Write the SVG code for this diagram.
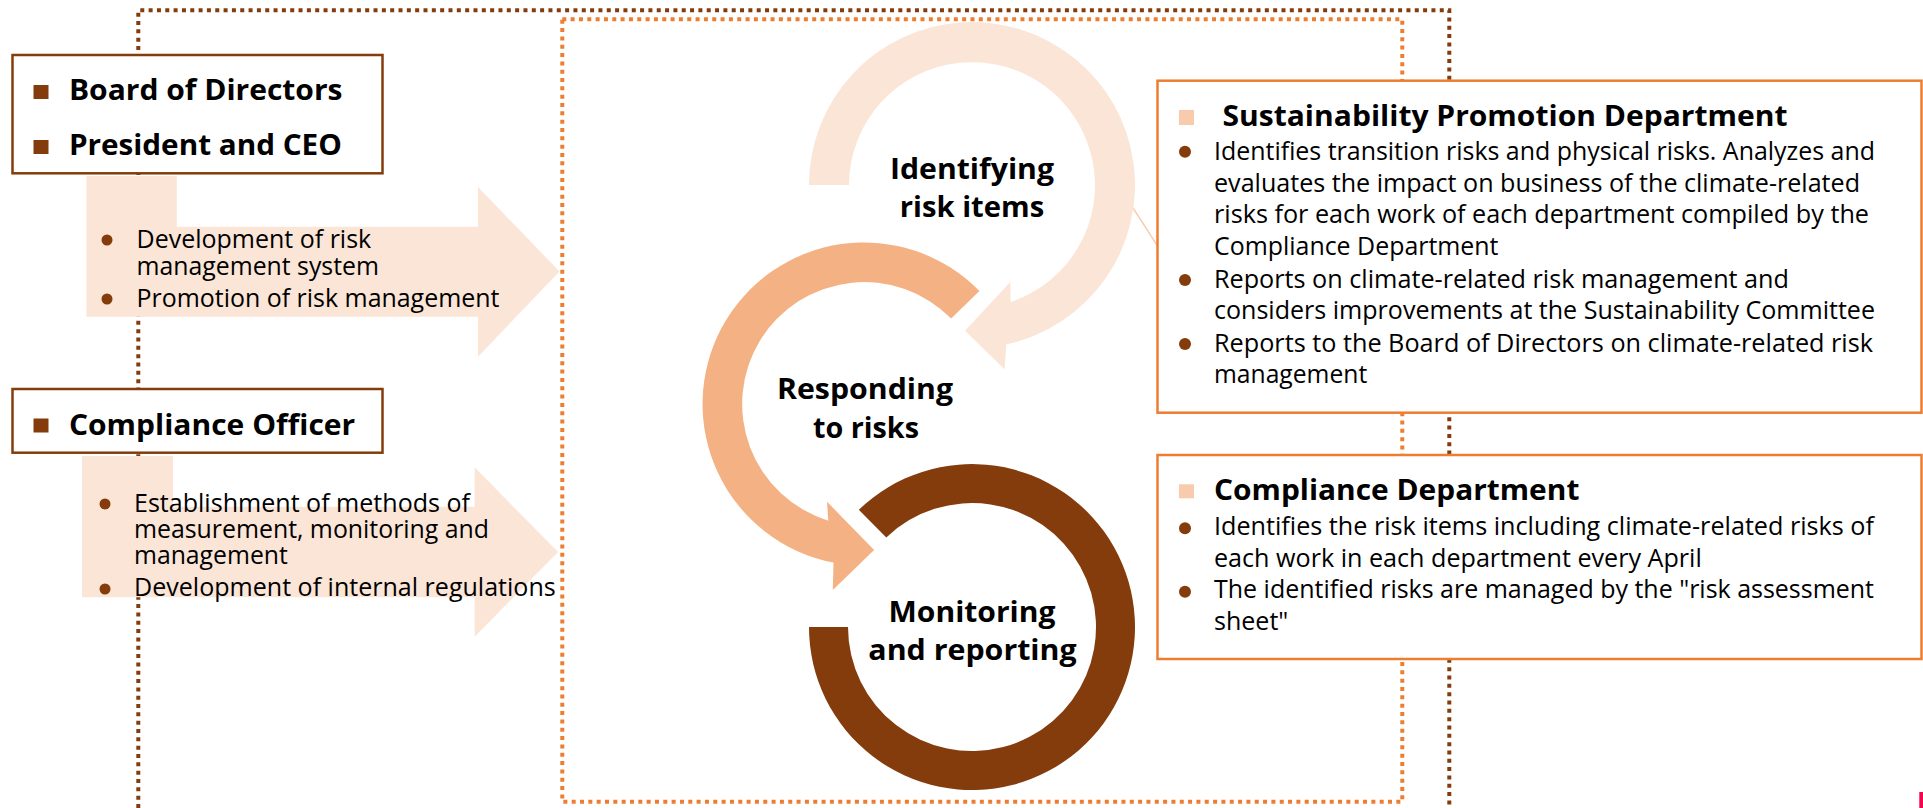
<svg xmlns="http://www.w3.org/2000/svg" width="1923" height="808" viewBox="0 0 1923 808">
<style>
.t{font-family:"Open Sans","Liberation Sans",sans-serif;font-size:25px;fill:#000}
.b{font-family:"Open Sans","Liberation Sans",sans-serif;font-size:29px;font-weight:bold;fill:#000}
.c{text-anchor:middle}
.dotB{fill:none;stroke:#843C0C;stroke-width:4;stroke-dasharray:4 4.33}
.dotO{fill:none;stroke:#ED7D31;stroke-width:4;stroke-dasharray:4 4.33}
.boxB{fill:#fff;stroke:#843C0C;stroke-width:2.5}
.boxO{fill:#fff;stroke:#ED7D31;stroke-width:2.5}
.sqB{fill:#843C0C}
.sqL{fill:#F8CBAD}
.dot{fill:#843C0C}
.arr{fill:#FBE5D6}
</style>
<g id="frames">
<path class="dotB" d="M138.3,808 V10.3 H1449.3 V808"/>
<rect class="dotO" x="562.3" y="19.3" width="840" height="782.4"/>
</g>
<g id="connectors">
<polygon class="arr" points="86.5,176 176.8,176 176.8,226.7 478,226.7 478,187 559.5,271.5 478,356.7 478,316.7 86.5,316.7"/>
<polygon class="arr" points="82,456 173,456 173,506.7 474.6,506.7 474.6,467.3 558,552 474.6,636.7 474.6,597.3 82,597.3"/>
<line x1="1133.3" y1="208.3" x2="1157.3" y2="245.7" stroke="#F8CBAD" stroke-width="1.5"/>
</g>
<g id="board">
<rect class="boxB" x="12.5" y="55" width="370" height="118.3"/>
<rect class="sqB" x="33.5" y="85" width="15" height="14"/>
<text class="b" x="68.9" y="100" textLength="273.6" lengthAdjust="spacingAndGlyphs">Board of Directors</text>
<rect class="sqB" x="33.5" y="140" width="15" height="14"/>
<text class="b" x="68.9" y="155" textLength="272.9" lengthAdjust="spacingAndGlyphs">President and CEO</text>
</g>
<g id="board-roles">
<circle class="dot" cx="107" cy="240" r="5.5"/>
<text class="t" x="136.6" y="248" textLength="234.6" lengthAdjust="spacingAndGlyphs">Development of risk</text>
<text class="t" x="136.6" y="275" textLength="242.3" lengthAdjust="spacingAndGlyphs">management system</text>
<circle class="dot" cx="107" cy="299" r="5.5"/>
<text class="t" x="136.6" y="307" textLength="362.8" lengthAdjust="spacingAndGlyphs">Promotion of risk management</text>
</g>
<g id="officer">
<rect class="boxB" x="12.5" y="389" width="370" height="63.7"/>
<rect class="sqB" x="33.5" y="418.5" width="15" height="14"/>
<text class="b" x="68.9" y="435" textLength="286.3" lengthAdjust="spacingAndGlyphs">Compliance Officer</text>
</g>
<g id="officer-roles">
<circle class="dot" cx="105" cy="504" r="5.5"/>
<text class="t" x="134" y="511.7" textLength="336" lengthAdjust="spacingAndGlyphs">Establishment of methods of</text>
<text class="t" x="134" y="538.3" textLength="355" lengthAdjust="spacingAndGlyphs">measurement, monitoring and</text>
<text class="t" x="134" y="564" textLength="153.8" lengthAdjust="spacingAndGlyphs">management</text>
<circle class="dot" cx="105" cy="589" r="5.5"/>
<text class="t" x="134" y="596" textLength="421.7" lengthAdjust="spacingAndGlyphs">Development of internal regulations</text>
</g>
<g id="identifying">
<path fill="#FBE5D6" d="M809,185 A163,163 0 1 1 1006.2,344.4 L1004.6,369.3 L965,330.7 L1010.5,281.7 L1010.5,302 A123,123 0 1 0 849,185 Z"/>
<text class="b c" x="972" y="179" textLength="164" lengthAdjust="spacingAndGlyphs">Identifying</text>
<text class="b c" x="972" y="216.7" textLength="144.3" lengthAdjust="spacingAndGlyphs">risk items</text>
</g>
<g id="responding">
<path fill="#F4B183" d="M979.4,291 A161.5,161.5 0 1 0 833.5,562.6 L832.8,590 L874.1,550 L827,501.7 L828.3,520.7 A122,122 0 1 1 951.2,318.6 Z"/>
<text class="b c" x="865" y="399.3" textLength="176" lengthAdjust="spacingAndGlyphs">Responding</text>
<text class="b c" x="866" y="438.3" textLength="106" lengthAdjust="spacingAndGlyphs">to risks</text>
</g>
<g id="monitoring">
<path fill="#843C0C" d="M809,627 A163,163 0 1 0 858.8,509.8 L886.3,537.4 A124,124 0 1 1 848,627 Z"/>
<text class="b c" x="972" y="621.7" textLength="167" lengthAdjust="spacingAndGlyphs">Monitoring</text>
<text class="b c" x="972.5" y="660" textLength="208.4" lengthAdjust="spacingAndGlyphs">and reporting</text>
</g>
<g id="sustainability">
<rect class="boxO" x="1157.5" y="80.7" width="764" height="332"/>
<rect class="sqL" x="1179" y="110" width="15" height="15"/>
<text class="b" x="1222.5" y="125.5" textLength="565" lengthAdjust="spacingAndGlyphs">Sustainability Promotion Department</text>
<circle class="dot" cx="1185" cy="151.7" r="6"/>
<text class="t" x="1214" y="159.5" textLength="661" lengthAdjust="spacingAndGlyphs">Identifies transition risks and physical risks. Analyzes and</text>
<text class="t" x="1214" y="191.7" textLength="646" lengthAdjust="spacingAndGlyphs">evaluates the impact on business of the climate-related</text>
<text class="t" x="1214" y="223.3" textLength="655" lengthAdjust="spacingAndGlyphs">risks for each work of each department compiled by the</text>
<text class="t" x="1214" y="255" textLength="284.5" lengthAdjust="spacingAndGlyphs">Compliance Department</text>
<circle class="dot" cx="1185" cy="280" r="6"/>
<text class="t" x="1214" y="288.3" textLength="575" lengthAdjust="spacingAndGlyphs">Reports on climate-related risk management and</text>
<text class="t" x="1214" y="319.3" textLength="661" lengthAdjust="spacingAndGlyphs">considers improvements at the Sustainability Committee</text>
<circle class="dot" cx="1185" cy="344" r="6"/>
<text class="t" x="1214" y="351.7" textLength="659" lengthAdjust="spacingAndGlyphs">Reports to the Board of Directors on climate-related risk</text>
<text class="t" x="1214" y="382.7" textLength="153.2" lengthAdjust="spacingAndGlyphs">management</text>
</g>
<g id="compliance-dept">
<rect class="boxO" x="1157.5" y="455" width="764" height="204"/>
<rect class="sqL" x="1179" y="484.3" width="15" height="14"/>
<text class="b" x="1214" y="500" textLength="365.4" lengthAdjust="spacingAndGlyphs">Compliance Department</text>
<circle class="dot" cx="1185" cy="528.3" r="6"/>
<text class="t" x="1214" y="535" textLength="660" lengthAdjust="spacingAndGlyphs">Identifies the risk items including climate-related risks of</text>
<text class="t" x="1214" y="566.7" textLength="487.8" lengthAdjust="spacingAndGlyphs">each work in each department every April</text>
<circle class="dot" cx="1185" cy="591.7" r="6"/>
<text class="t" x="1214" y="598.3" textLength="660" lengthAdjust="spacingAndGlyphs">The identified risks are managed by the "risk assessment</text>
<text class="t" x="1214" y="630" textLength="74.3" lengthAdjust="spacingAndGlyphs">sheet"</text>
</g>
<rect x="1919.3" y="792" width="3.7" height="16" fill="#F2074F"/>
</svg>
